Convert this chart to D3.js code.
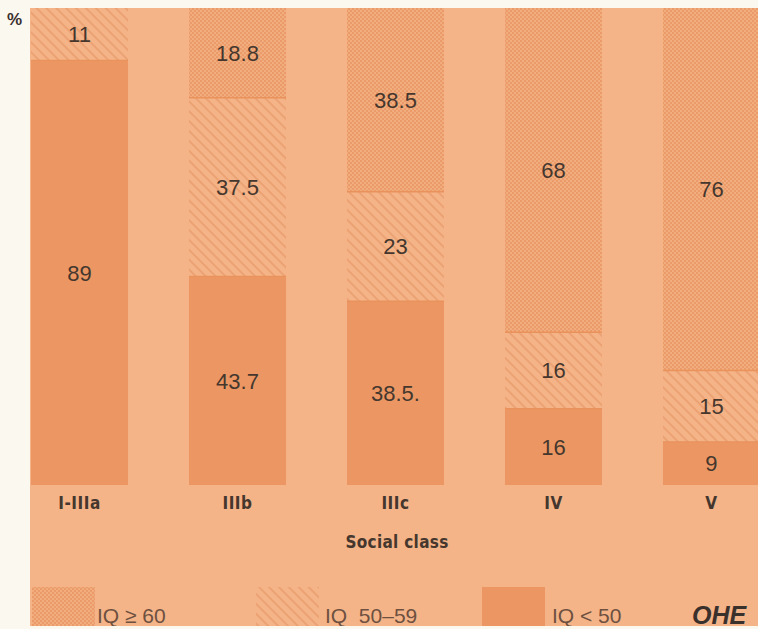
<!DOCTYPE html>
<html><head><meta charset="utf-8">
<script src="https://cdn.jsdelivr.net/npm/d3@7"></script>
<style>
html,body{margin:0;padding:0;background:#fbf8ef;overflow:hidden;}
svg{display:block;}
</style></head>
<body>
<svg id="chart" width="758" height="629"></svg>
<script>
// ---- data ----
const categories = ["I-IIIa", "IIIb", "IIIc", "IV", "V"];
const iqBelow50 = [89, 43.7, 38.5, 16, 9];
const iq50to59 = [11, 37.5, 23, 16, 15];
const iq60plus = [0, 18.8, 38.5, 68, 76];
const labelsBelow50 = ["89", "43.7", "38.5.", "16", "9"];
const labels50to59 = ["11", "37.5", "23", "16", "15"];
const labels60plus = ["", "18.8", "38.5", "68", "76"];
const seriesNames = ["IQ \u2265 60", "IQ\u00a0\u00a050\u201359", "IQ < 50"];
const yTicks = [0, 100];

const svg = d3.select("#chart");
const W = 758, H = 629;
const C = {
  paper: "#fbf8ef", bg: "#f4b488", solid: "#ec9763",
  hatchBg: "#f4b488", hatchLine: "#eba071",
  crossBg: "#f2ad7e", crossDot: "#ea9b69",
  text: "#45372e", legendText: "#6e5040"
};

const defs = svg.append("defs");
const hatch = defs.append("pattern").attr("id", "hatch").attr("patternUnits", "userSpaceOnUse")
  .attr("width", 7).attr("height", 7).attr("patternTransform", "rotate(45)");
hatch.append("rect").attr("width", 7).attr("height", 7).attr("fill", C.hatchBg);
hatch.append("rect").attr("x", 0).attr("y", 0).attr("width", 7).attr("height", 1.8).attr("fill", C.hatchLine);

const cross = defs.append("pattern").attr("id", "cross").attr("patternUnits", "userSpaceOnUse")
  .attr("width", 4).attr("height", 4);
cross.append("rect").attr("width", 4).attr("height", 4).attr("fill", C.crossBg);
cross.append("rect").attr("width", 2).attr("height", 2).attr("fill", C.crossDot);
cross.append("rect").attr("x", 2).attr("y", 2).attr("width", 2).attr("height", 2).attr("fill", C.crossDot);

// background
svg.append("rect").attr("width", W).attr("height", H).attr("fill", C.paper);
svg.append("rect").attr("x", 30).attr("y", 8).attr("width", W - 30).attr("height", 618).attr("fill", C.bg);

const x = d3.scaleBand().domain(categories).range([31, 821 - 61]).paddingInner(0.386).paddingOuter(0);
const y = d3.scaleLinear().domain([yTicks[0], yTicks[1]]).range([485, 8]);

const rows = categories.map((c, i) => ({
  cat: c,
  low: iqBelow50[i], mid: iq50to59[i], high: iq60plus[i],
  lLow: labelsBelow50[i], lMid: labels50to59[i], lHigh: labels60plus[i]
}));
const stack = d3.stack().keys(["low", "mid", "high"]);
const layers = stack(rows);
const fills = { low: C.solid, mid: "url(#hatch)", high: "url(#cross)" };
const labelKey = { low: "lLow", mid: "lMid", high: "lHigh" };

const g = svg.append("g");
layers.forEach(layer => {
  const key = layer.key;
  const lg = g.append("g");
  lg.selectAll("rect").data(layer.filter(d => d[1] - d[0] > 0)).join("rect")
    .attr("x", d => x(d.data.cat))
    .attr("width", x.bandwidth())
    .attr("y", d => y(d[1]))
    .attr("height", d => y(d[0]) - y(d[1]))
    .attr("fill", fills[key]);
  lg.selectAll("line.sep").data(layer.filter(d => d[1] - d[0] > 0 && d[0] > 0)).join("line")
    .attr("x1", d => x(d.data.cat)).attr("x2", d => x(d.data.cat) + x.bandwidth())
    .attr("y1", d => y(d[0])).attr("y2", d => y(d[0]))
    .attr("stroke", "#e9925c").attr("stroke-width", 1.5);
});
layers.forEach(layer => {
  const key = layer.key;
  g.append("g").selectAll("text").data(layer.filter(d => d[1] - d[0] > 0)).join("text")
    .attr("x", d => x(d.data.cat) + x.bandwidth() / 2)
    .attr("y", d => (y(d[0]) + y(d[1])) / 2)
    .attr("dy", "0.36em")
    .attr("text-anchor", "middle")
    .attr("font-family", "'Liberation Sans', Arial, sans-serif")
    .attr("font-size", 22)
    .attr("fill", C.text)
    .text(d => d.data[labelKey[key]]);
});

// x axis labels
const xAxis = d3.axisBottom(x).tickSize(0).tickPadding(0);
const ax = svg.append("g").attr("transform", "translate(0,497)").call(xAxis);
ax.select(".domain").remove();
ax.selectAll("text")
  .attr("dy", "0.71em")
  .attr("font-family", "'DejaVu Sans Condensed', 'Liberation Sans Narrow', sans-serif")
  .attr("font-weight", "bold")
  .attr("font-size", 17)
  .attr("letter-spacing", 0.5)
  .attr("fill", C.text);

svg.append("text").attr("x", 397).attr("y", 548).attr("text-anchor", "middle")
  .attr("font-family", "'DejaVu Sans Condensed', 'Liberation Sans Narrow', sans-serif")
  .attr("font-weight", "bold").attr("font-size", 17).attr("letter-spacing", 0.3)
  .attr("fill", C.text).text("Social class");

svg.append("text").attr("x", 7).attr("y", 25)
  .attr("font-family", "'Liberation Sans', Arial, sans-serif")
  .attr("font-weight", "bold").attr("font-size", 17).attr("fill", "#3a3030").text("%");

// legend
const legendX = [32, 256, 482];
const legendTextX = [97, 325, 552];
const legendFill = ["url(#cross)", "url(#hatch)", C.solid];
const lgd = svg.append("g");
seriesNames.forEach((n, i) => {
  lgd.append("rect").attr("x", legendX[i]).attr("y", 587).attr("width", 63).attr("height", 39)
    .attr("fill", legendFill[i]);
});
// bottom paper strip
svg.append("rect").attr("x", 0).attr("y", 626).attr("width", W).attr("height", 3).attr("fill", C.paper);
seriesNames.forEach((n, i) => {
  lgd.append("text").attr("x", legendTextX[i]).attr("y", 623)
    .attr("font-family", "'Liberation Sans', Arial, sans-serif")
    .attr("font-size", 21).attr("fill", C.legendText).text(n);
});
svg.append("text").attr("x", 692).attr("y", 624)
  .attr("font-family", "'Liberation Sans', Arial, sans-serif")
  .attr("font-weight", "bold").attr("font-style", "italic")
  .attr("font-size", 25).attr("fill", "#3a302c").text("OHE");
</script>
</body></html>
